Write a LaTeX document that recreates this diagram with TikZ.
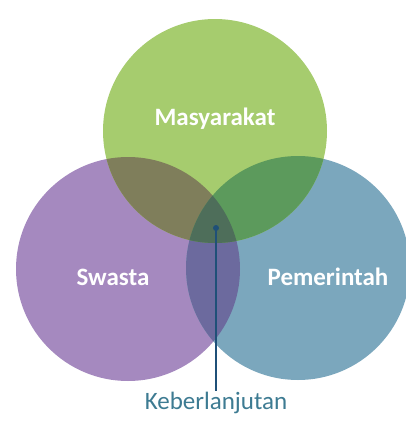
\documentclass[tikz,border=0pt]{standalone}
\usepackage{fontspec}
\setmainfont{Carlito}
\definecolor{cg}{HTML}{A6CC6E}
\definecolor{cp}{HTML}{A589BF}
\definecolor{cb}{HTML}{7BA7BD}
\definecolor{cgp}{HTML}{7F7E5B}
\definecolor{cgb}{HTML}{5C9A5C}
\definecolor{cpb}{HTML}{6C6A9E}
\definecolor{cgpb}{HTML}{4E6E5A}
\definecolor{cline}{HTML}{1F5078}
\definecolor{ctxt}{HTML}{3D7B92}
\begin{document}
\begin{tikzpicture}[x=1pt,y=-1pt,
  lbl/.style={text=white,font=\fontsize{25}{30}\selectfont\bfseries,inner sep=0pt},
  rad/.style={radius=112pt}]
\useasboundingbox (0,0) rectangle (406,421);
\fill[white] (0,0) rectangle (406,421);
\coordinate (G) at (215,131);
\coordinate (P) at (128,269);
\coordinate (B) at (298,268);
\fill[cp] (P) circle[rad];
\fill[cb] (B) circle[rad];
\fill[cg] (G) circle[rad];
\begin{scope}
  \clip (P) circle[rad];
  \fill[cpb] (B) circle[rad];
  \fill[cgp] (G) circle[rad];
\end{scope}
\begin{scope}
  \clip (B) circle[rad];
  \fill[cgb] (G) circle[rad];
\end{scope}
\begin{scope}
  \clip (P) circle[rad];
  \clip (B) circle[rad];
  \fill[cgpb] (G) circle[rad];
\end{scope}
\node[lbl] (m) at (215,119) {Masyarakat};
\node[lbl] (s) at (113,277) {Swasta};
\node[lbl] (pm) at (328,277) {Pemerintah};
\coordinate (dot) at (216,228);
\node[text=ctxt,font=\fontsize{25}{30}\selectfont,inner sep=1pt,anchor=north] (k) at (216,391) {Keberlanjutan};
\draw[cline,line width=2pt] (dot) -- (k.north);
\fill[cline] (dot) circle[radius=3pt];
\end{tikzpicture}
\end{document}
